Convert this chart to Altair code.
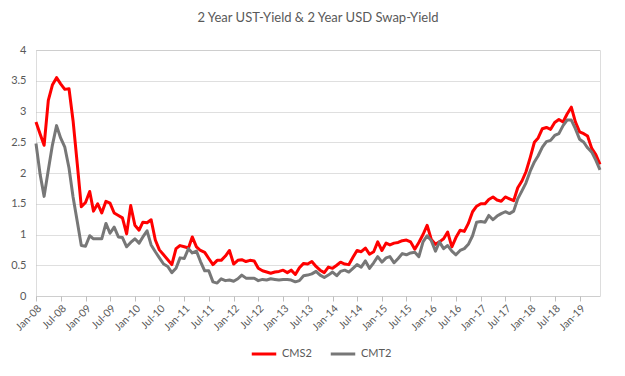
import altair as alt
import pandas as pd

# Monthly observations Jan-08 .. Jun-19
cms2 = [2.83, 2.63, 2.45, 3.18, 3.43, 3.55, 3.45, 3.36, 3.37, 2.85, 2.15, 1.45,
        1.52, 1.70, 1.38, 1.50, 1.35, 1.54, 1.51, 1.35, 1.31, 1.27, 1.01, 1.47,
        1.15, 1.07, 1.20, 1.19, 1.24, 0.91, 0.75, 0.67, 0.59, 0.51, 0.77, 0.82,
        0.80, 0.78, 0.96, 0.80, 0.74, 0.71, 0.61, 0.51, 0.58, 0.58, 0.65, 0.74,
        0.52, 0.58, 0.59, 0.56, 0.58, 0.57, 0.45, 0.41, 0.39, 0.37, 0.39, 0.40,
        0.42, 0.38, 0.42, 0.35, 0.46, 0.53, 0.52, 0.56, 0.48, 0.42, 0.38, 0.47,
        0.45, 0.50, 0.55, 0.52, 0.51, 0.63, 0.74, 0.72, 0.78, 0.68, 0.72, 0.88,
        0.74, 0.86, 0.83, 0.86, 0.87, 0.90, 0.91, 0.88, 0.76, 0.87, 1.00, 1.15,
        0.92, 0.84, 0.88, 0.93, 1.04, 0.80, 0.95, 1.07, 1.05, 1.18, 1.37, 1.46,
        1.50, 1.50, 1.57, 1.61, 1.56, 1.54, 1.61, 1.58, 1.55, 1.76, 1.87, 2.02,
        2.25, 2.50, 2.57, 2.72, 2.74, 2.71, 2.82, 2.87, 2.83, 2.96, 3.07, 2.83,
        2.67, 2.64, 2.60, 2.40, 2.30, 2.14]

cmt2 = [2.48, 1.97, 1.62, 2.05, 2.45, 2.77, 2.57, 2.42, 2.08, 1.61, 1.21, 0.82,
        0.81, 0.98, 0.93, 0.93, 0.93, 1.18, 1.02, 1.12, 0.96, 0.95, 0.80, 0.87,
        0.93, 0.86, 0.96, 1.06, 0.83, 0.72, 0.62, 0.52, 0.48, 0.38, 0.45, 0.62,
        0.61, 0.77, 0.70, 0.73, 0.56, 0.41, 0.41, 0.23, 0.21, 0.28, 0.25, 0.26,
        0.24, 0.28, 0.34, 0.29, 0.29, 0.29, 0.25, 0.27, 0.26, 0.28, 0.27, 0.26,
        0.27, 0.27, 0.26, 0.23, 0.25, 0.33, 0.34, 0.36, 0.40, 0.34, 0.30, 0.34,
        0.39, 0.33, 0.40, 0.42, 0.39, 0.45, 0.51, 0.47, 0.57, 0.45, 0.54, 0.64,
        0.55, 0.62, 0.64, 0.54, 0.61, 0.69, 0.67, 0.70, 0.71, 0.64, 0.88, 0.98,
        0.90, 0.73, 0.88, 0.77, 0.82, 0.73, 0.67, 0.74, 0.77, 0.84, 0.98, 1.20,
        1.21, 1.20, 1.31, 1.24, 1.30, 1.34, 1.37, 1.34, 1.38, 1.58, 1.71, 1.84,
        2.03, 2.18, 2.28, 2.42, 2.51, 2.53, 2.61, 2.64, 2.77, 2.86, 2.86, 2.72,
        2.55, 2.50, 2.41, 2.34, 2.21, 2.05]

months = pd.date_range("2008-01-01", periods=len(cms2), freq="MS")
tick_months = pd.date_range("2008-01-01", "2019-01-01", freq="6MS")
series_names = ["CMS2", "CMT2"]
series_colors = ["#FF0000", "#777777"]
y_ticks = [0, 0.5, 1, 1.5, 2, 2.5, 3, 3.5, 4]

rows = []
for name, vals in zip(series_names, [cms2, cmt2]):
    for d, v in zip(months, vals):
        rows.append({"Month": d, "Series": name, "Value": v})
df = pd.DataFrame(rows)

FONT = "Lato"
TXT = "#595959"

tick_values = [alt.DateTime(year=d.year, month=d.month, date=1) for d in tick_months]

chart = alt.Chart(df).mark_line(strokeWidth=3, strokeJoin="round").encode(
    x=alt.X("Month:T",
            scale=alt.Scale(domain=[alt.DateTime(year=2008, month=1, date=1),
                                    alt.DateTime(year=2019, month=6, date=1)]),
            axis=alt.Axis(values=tick_values, format="%b-%y", labelAngle=-45,
                          labelAlign="right", labelBaseline="top",
                          labelFont=FONT, labelFontSize=10.5, labelColor=TXT,
                          labelPadding=2, tickSize=5, tickColor="#BFBFBF",
                          domain=False, grid=False, title=None,
                          labelOverlap=False)),
    y=alt.Y("Value:Q",
            scale=alt.Scale(domain=[0, 4], nice=False),
            axis=alt.Axis(values=y_ticks, format=".1~f", labelFont=FONT,
                          labelFontSize=11, labelColor=TXT, labelPadding=10,
                          ticks=False, domain=False, gridColor="#BFBFBF",
                          gridDash=[1, 1], gridWidth=1, title=None)),
    color=alt.Color("Series:N",
                    scale=alt.Scale(domain=series_names, range=series_colors),
                    legend=alt.Legend(orient="none", legendX=214, legendY=290,
                                      direction="horizontal", title=None,
                                      labelFont=FONT, labelFontSize=11,
                                      labelColor=TXT, symbolType="stroke",
                                      symbolStrokeWidth=3, symbolSize=600,
                                      columnPadding=12)),
    order=alt.Order("Month:T"),
).properties(
    width=564,
    height=246,
    padding={"left": 28, "top": 42, "right": 10, "bottom": 76},
    autosize=alt.AutoSizeParams(type="none"),
    title=alt.TitleParams("2 Year UST-Yield & 2 Year USD Swap-Yield",
                          font=FONT, fontSize=13, fontWeight="normal",
                          color=TXT, anchor="middle", offset=19),
).configure_view(stroke=None).configure(background="white")

chart.save("out.html", embed_options={"renderer": "svg", "actions": False})
